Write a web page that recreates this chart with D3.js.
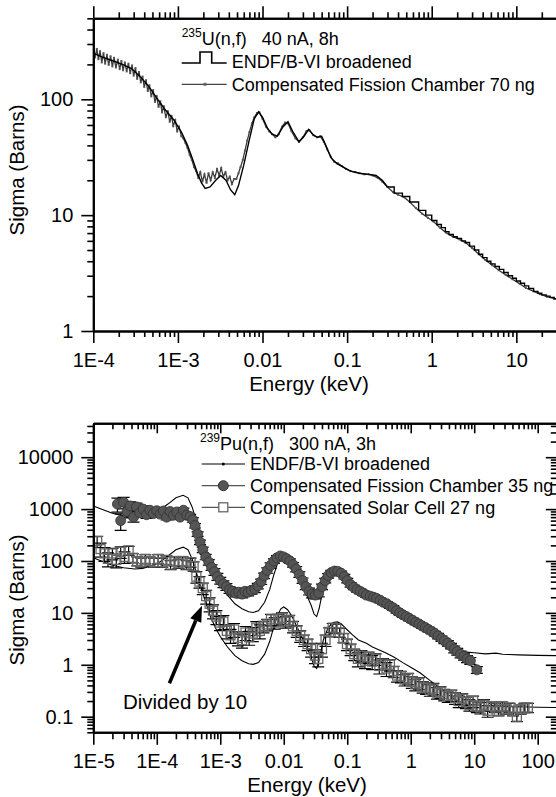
<!DOCTYPE html>
<html>
<head>
<meta charset="utf-8">
<script src="https://cdn.jsdelivr.net/npm/d3@7"></script>
<style>
  body { margin: 0; background: #fff; }
  svg { display: block; font-family: 'Liberation Sans', Arial, sans-serif; }
</style>
</head>
<body>
<svg id="chart" width="556" height="797"></svg>
<script>
// ---- 235U panel data (energy in keV, sigma in barns) ----
const uEndfE = [1e-4, 1.3e-4, 1.7e-4, 2.2e-4, 2.8e-4, 3.5e-4, 4.5e-4, 5.5e-4, 7e-4, 9e-4,
  1.1e-3, 1.3e-3, 1.5e-3, 1.7e-3, 1.9e-3, 2.1e-3, 2.4e-3, 2.8e-3, 3.2e-3, 3.7e-3,
  4.2e-3, 4.7e-3, 5.2e-3, 6e-3, 7e-3, 8e-3, 9e-3, 1e-2, 1.15e-2, 1.3e-2,
  1.5e-2, 1.75e-2, 2e-2, 2.3e-2, 2.7e-2, 3.1e-2, 3.5e-2, 4e-2, 4.5e-2, 5e-2,
  5.6e-2, 6.5e-2, 7.5e-2, 9e-2, 0.11, 0.14, 0.18, 0.22, 0.26, 0.3,
  0.36, 0.45, 0.55, 0.7, 0.85, 1.0, 1.15, 1.3, 1.45, 1.6, 1.8, 2.0, 2.25, 2.5, 2.8, 3.2,
  3.6, 4.0, 4.5, 5.0, 5.6, 6.3, 7.1, 8.0, 9.0, 10, 11.2, 12.5, 14, 16, 18, 20, 22.5, 25, 28, 31]
const uEndfSigma = [250, 230, 215, 200, 185, 160, 130, 105, 82, 66,
  52, 40, 30, 23, 19, 17, 17.5, 20, 22, 20,
  16.5, 15, 18, 27, 45, 68, 78, 70, 56, 50,
  48, 58, 64, 52, 43, 48, 55, 49, 47, 48,
  40, 31, 28, 26, 24, 23, 22.5, 22, 20, 17.5,
  15.5, 14.5, 13, 11, 10, 9.0, 8.3, 7.8, 7.2, 6.8, 6.5, 6.3, 6.0, 5.8, 5.4, 5.0,
  4.6, 4.3, 4.0, 3.8, 3.6, 3.4, 3.2, 3.0, 2.85, 2.7, 2.58, 2.45, 2.33, 2.2, 2.12, 2.05, 2.0, 1.95, 1.9, 1.88]
// above this energy the broadened ENDF curve is drawn as a histogram
const uEndfStepFrom = 0.3

const uChamberE = [1.00e-4, 1.05e-4, 1.10e-4, 1.15e-4, 1.2e-4, 1.26e-4, 1.32e-4, 1.38e-4, 1.45e-4, 1.52e-4,
  1.6e-4, 1.68e-4, 1.76e-4, 1.85e-4, 1.95e-4, 2.05e-4, 2.15e-4, 2.25e-4, 2.36e-4, 2.48e-4,
  2.6e-4, 2.73e-4, 2.87e-4, 3.0e-4, 3.15e-4, 3.3e-4, 3.47e-4, 3.64e-4, 3.82e-4, 4.0e-4,
  4.2e-4, 4.4e-4, 4.6e-4, 4.85e-4, 5.1e-4, 5.35e-4, 5.6e-4, 5.9e-4, 6.2e-4, 6.5e-4,
  6.8e-4, 7.2e-4, 7.6e-4, 8.0e-4, 8.4e-4, 8.8e-4, 9.3e-4, 9.8e-4, 1.03e-3, 1.1e-3,
  1.16e-3, 1.23e-3, 1.3e-3, 1.38e-3, 1.46e-3, 1.55e-3, 1.64e-3, 1.74e-3, 1.84e-3, 1.95e-3,
  2.06e-3, 2.18e-3, 2.3e-3, 2.44e-3, 2.58e-3, 2.73e-3, 2.9e-3, 3.07e-3, 3.25e-3, 3.44e-3,
  3.65e-3, 3.86e-3, 4.1e-3, 4.35e-3, 4.6e-3, 4.9e-3, 5.2e-3, 5.5e-3, 5.85e-3, 6.2e-3,
  6.6e-3, 7e-3, 7.5e-3, 8e-3, 8.6e-3, 9.2e-3, 1.0e-2, 1.1e-2, 1.2e-2, 1.3e-2,
  1.42e-2, 1.55e-2, 1.7e-2, 1.85e-2, 2.0e-2, 2.2e-2, 2.45e-2, 2.7e-2, 3.0e-2, 3.3e-2,
  3.6e-2, 4.0e-2, 4.4e-2, 4.8e-2, 5.3e-2, 5.8e-2, 6.4e-2, 7e-2, 7.8e-2, 8.7e-2,
  9.7e-2, 0.11, 0.125, 0.14, 0.16, 0.18, 0.2, 0.23, 0.26, 0.3,
  0.35, 0.4, 0.47, 0.55, 0.65, 0.77, 0.9, 1.05, 1.25, 1.5,
  1.8, 2.1, 2.5, 3, 3.6, 4.3, 5.2, 6.2, 7.5, 9,
  11, 13, 16, 19, 23, 28, 31]
const uChamberSigma = [285, 230, 272, 222, 260, 208, 250, 203, 242, 198,
  235, 192, 228, 188, 220, 182, 214, 178, 208, 174,
  203, 168, 196, 160, 186, 150, 172, 140, 157, 128,
  146, 118, 132, 106, 120, 95, 107, 86, 96, 77,
  87, 70, 79, 64, 72, 59, 66, 53, 58, 48,
  46, 42, 38, 33, 30, 26, 24, 21, 23.5, 19.5,
  22.5, 19, 23, 20, 23.5, 21, 25, 22, 25.5, 21.5,
  23.5, 20, 21.5, 18.5, 20.5, 20.5, 23, 26, 30, 36,
  44, 52, 62, 70, 76, 77, 68, 58, 53, 50,
  47, 50, 58, 63, 62, 53, 46, 43, 47, 53,
  54, 49, 47, 48, 43, 37, 32, 29, 28, 26.5,
  25, 24, 23.5, 23, 22.5, 22.5, 22, 21, 19.5, 17.5,
  15.8, 15, 14.3, 13, 11.5, 10.3, 9.5, 8.8, 7.8, 7,
  6.5, 6.2, 5.8, 5.2, 4.6, 4.1, 3.7, 3.35, 3.05, 2.8,
  2.55, 2.35, 2.2, 2.08, 1.98, 1.9, 1.88]

const uXTicks = [1e-4, 1e-3, 1e-2, 0.1, 1, 10]
const uXTickLabels = ['1E-4', '1E-3', '0.01', '0.1', '1', '10']
const uYTicks = [1, 10, 100]
const uYTickLabels = ['1', '10', '100']

// ---- 239Pu panel data ----
const puEndfE = [1e-5, 1.5e-5, 2e-5, 3e-5, 4.5e-5, 6e-5, 8e-5, 1.1e-4, 1.5e-4, 2e-4,
  2.6e-4, 3.1e-4, 3.6e-4, 4.2e-4, 5e-4, 6e-4, 7e-4, 8.5e-4, 1e-3, 1.3e-3,
  1.7e-3, 2.2e-3, 2.8e-3, 3.3e-3, 4e-3, 5e-3, 6e-3, 7e-3, 8e-3, 9e-3,
  1e-2, 1.15e-2, 1.35e-2, 1.6e-2, 1.9e-2, 2.3e-2, 2.7e-2, 3.0e-2, 3.3e-2, 3.6e-2,
  4.2e-2, 5e-2, 6e-2, 7e-2, 8e-2, 9.5e-2, 0.12, 0.15, 0.2, 0.25,
  0.3, 0.4, 0.55, 0.75, 1.0, 1.4, 2, 3, 4, 5.5,
  7.5, 10, 15, 22, 28, 35, 50, 100, 200]
const puEndfSigma = [1150, 950, 830, 740, 700, 720, 800, 950, 1250, 1650,
  1850, 1650, 1100, 600, 300, 150, 85, 50, 35, 22,
  15, 12, 10.5, 10.2, 11, 16, 28, 55, 90, 120,
  130, 115, 85, 55, 35, 22, 14, 9.5, 8.5, 12,
  30, 52, 65, 67, 62, 50, 38, 30, 26, 22,
  20, 17, 14, 11, 9, 7, 5, 3.5, 2.6, 2.0,
  1.75, 1.7, 1.62, 1.68, 1.6, 1.58, 1.55, 1.52, 1.5]
const puScaledDivisor = 10

const fcE = [2.4e-5, 2.7e-5, 3.0e-5, 3.4e-5, 3.8e-5, 4.3e-5, 4.8e-5, 5.4e-5, 6.1e-5, 6.9e-5,
  7.8e-5, 8.8e-5, 1.0e-4, 1.13e-4, 1.27e-4, 1.43e-4, 1.62e-4, 1.83e-4, 2.06e-4, 2.33e-4,
  2.63e-4, 2.97e-4, 3.35e-4, 3.7e-4, 4.0e-4, 4.4e-4, 4.8e-4, 5.3e-4, 5.9e-4, 6.6e-4,
  7.3e-4, 8.1e-4, 9e-4, 1.0e-3, 1.12e-3, 1.25e-3, 1.4e-3, 1.56e-3, 1.75e-3, 1.95e-3,
  2.2e-3, 2.45e-3, 2.75e-3, 3.1e-3, 3.5e-3, 3.9e-3, 4.4e-3, 4.9e-3, 5.5e-3, 6.2e-3,
  7e-3, 7.8e-3, 8.8e-3, 9.9e-3, 1.11e-2, 1.25e-2, 1.4e-2, 1.57e-2, 1.76e-2, 1.98e-2,
  2.22e-2, 2.5e-2, 2.8e-2, 3.15e-2, 3.55e-2, 4e-2, 4.5e-2, 5e-2, 5.6e-2, 6.3e-2,
  7.1e-2, 8e-2, 9e-2, 0.1, 0.113, 0.127, 0.143, 0.16, 0.18, 0.2,
  0.23, 0.26, 0.29, 0.33, 0.37, 0.42, 0.47, 0.53, 0.6, 0.67,
  0.75, 0.85, 0.95, 1.07, 1.2, 1.35, 1.52, 1.7, 1.9, 2.15,
  2.4, 2.7, 3.05, 3.4, 3.85, 4.3, 4.85, 5.4, 6.1, 6.9,
  7.7, 8.7, 11]
const fcSigma = [1250, 600, 1350, 900, 1150, 700, 1100, 850, 1000, 780,
  950, 820, 930, 800, 920, 700, 900, 760, 880, 700,
  950, 760, 720, 620, 480, 330, 230, 165, 120, 95,
  75, 62, 50, 42, 36, 32, 28, 26, 24, 25,
  23, 26, 25, 27, 29, 33, 40, 52, 66, 82,
  100, 115, 125, 120, 110, 100, 85, 70, 55, 42,
  32, 26, 23, 22, 24, 32, 42, 52, 60, 64,
  63, 58, 50, 42, 35, 31, 28, 26, 24, 22,
  21, 20, 19, 17.5, 16, 15, 13.5, 12.5, 11, 10,
  9.2, 8.5, 7.8, 7.2, 6.6, 6.1, 5.6, 5.2, 4.8, 4.4,
  4.0, 3.6, 3.2, 2.9, 2.6, 2.3, 2.0, 1.8, 1.6, 1.45,
  1.3, 1.2, 0.8]
const fcRelErr = [0.3, 0.35, 0.25, 0.25, 0.2, 0.2, 0.18, 0.15, 0.15, 0.15,
  0.12, 0.12, 0.12, 0.12, 0.1, 0.12, 0.1, 0.1, 0.1, 0.1,
  0.1, 0.1, 0.1, 0.1, 0.1, 0.1, 0.1, 0.12, 0.12, 0.12,
  0.12, 0.15, 0.15, 0.15, 0.15, 0.15, 0.15, 0.15, 0.15, 0.15,
  0.15, 0.15, 0.15, 0.15, 0.15, 0.12, 0.12, 0.12, 0.12, 0.12,
  0.1, 0.1, 0.1, 0.1, 0.1, 0.1, 0.1, 0.12, 0.12, 0.12,
  0.12, 0.15, 0.15, 0.15, 0.15, 0.12, 0.1, 0.1, 0.1, 0.1,
  0.1, 0.1, 0.1, 0.1, 0.1, 0.1, 0.1, 0.1, 0.1, 0.1,
  0.1, 0.1, 0.1, 0.1, 0.1, 0.1, 0.1, 0.1, 0.1, 0.1,
  0.1, 0.1, 0.1, 0.1, 0.1, 0.1, 0.1, 0.1, 0.1, 0.1,
  0.1, 0.12, 0.12, 0.12, 0.12, 0.12, 0.15, 0.15, 0.15, 0.15,
  0.15, 0.15, 0.15]

// solar cell values are already divided by 10, as plotted
const scE = [1.15e-5, 1.3e-5, 1.5e-5, 1.7e-5, 2.0e-5, 2.3e-5, 2.7e-5, 3.1e-5, 3.6e-5, 4.2e-5,
  4.9e-5, 5.7e-5, 6.6e-5, 7.7e-5, 9e-5, 1.05e-4, 1.22e-4, 1.42e-4, 1.65e-4, 1.9e-4,
  2.2e-4, 2.55e-4, 2.95e-4, 3.4e-4, 3.8e-4, 4.2e-4, 4.7e-4, 5.3e-4, 6e-4, 6.8e-4,
  7.7e-4, 8.7e-4, 9.9e-4, 1.12e-3, 1.27e-3, 1.45e-3, 1.65e-3, 1.9e-3, 2.2e-3, 2.5e-3,
  2.85e-3, 3.25e-3, 3.7e-3, 4.2e-3, 4.8e-3, 5.5e-3, 6.3e-3, 7.2e-3, 8.2e-3, 9.4e-3,
  1.07e-2, 1.22e-2, 1.4e-2, 1.6e-2, 1.82e-2, 2.08e-2, 2.37e-2, 2.7e-2, 3.1e-2, 3.5e-2,
  4e-2, 4.55e-2, 5.2e-2, 5.9e-2, 6.7e-2, 7.6e-2, 8.7e-2, 0.099, 0.113, 0.129,
  0.147, 0.167, 0.19, 0.217, 0.247, 0.28, 0.32, 0.365, 0.415, 0.47,
  0.54, 0.61, 0.7, 0.8, 0.91, 1.04, 1.18, 1.35, 1.54, 1.75,
  2.0, 2.28, 2.6, 2.95, 3.37, 3.84, 4.37, 5, 5.7, 6.5,
  7.4, 8.4, 9.6, 11, 12.5, 14.3, 16.3, 18.6, 21.2, 24.2,
  27.6, 31.5, 36, 41, 47, 54, 62, 70]
const scSigma = [240, 170, 140, 110, 140, 105, 150, 120, 160, 115,
  100, 95, 110, 100, 95, 110, 95, 105, 85, 100,
  90, 100, 85, 95, 80, 50, 40, 30, 21, 15,
  11, 8.5, 6.5, 6.8, 4.5, 3.7, 4.8, 3.3, 3.0, 4.2,
  3.4, 4.0, 5.2, 4.5, 5.5, 6.0, 7.5, 6.5, 7.5, 8.0,
  6.8, 7.2, 5.5, 4.5, 3.6, 3.0, 2.5, 2.0, 1.5, 1.3,
  2.0, 3.0, 4.3, 5.2, 5.0, 4.2, 3.3, 2.5, 2.0, 1.6,
  1.3, 1.5, 1.2, 1.4, 1.15, 1.3, 0.95, 1.05, 0.85, 1.0,
  0.75, 0.62, 0.6, 0.52, 0.55, 0.47, 0.42, 0.45, 0.38, 0.36,
  0.33, 0.35, 0.29, 0.3, 0.27, 0.25, 0.26, 0.23, 0.2, 0.22,
  0.19, 0.17, 0.2, 0.16, 0.15, 0.17, 0.13, 0.16, 0.15, 0.13,
  0.16, 0.14, 0.15, 0.13, 0.1, 0.14, 0.15, 0.15]
const scRelErr = [0.25, 0.3, 0.3, 0.3, 0.25, 0.3, 0.25, 0.25, 0.2, 0.2,
  0.2, 0.2, 0.2, 0.2, 0.2, 0.2, 0.2, 0.2, 0.2, 0.2,
  0.2, 0.2, 0.2, 0.2, 0.2, 0.25, 0.25, 0.25, 0.3, 0.3,
  0.3, 0.3, 0.3, 0.3, 0.3, 0.3, 0.3, 0.3, 0.3, 0.3,
  0.3, 0.3, 0.3, 0.3, 0.25, 0.25, 0.25, 0.25, 0.25, 0.25,
  0.25, 0.25, 0.25, 0.25, 0.25, 0.25, 0.25, 0.3, 0.3, 0.3,
  0.3, 0.25, 0.2, 0.2, 0.2, 0.2, 0.2, 0.25, 0.25, 0.25,
  0.3, 0.25, 0.3, 0.25, 0.3, 0.25, 0.3, 0.25, 0.3, 0.25,
  0.25, 0.25, 0.25, 0.25, 0.25, 0.25, 0.25, 0.25, 0.25, 0.25,
  0.25, 0.25, 0.25, 0.25, 0.25, 0.25, 0.25, 0.25, 0.25, 0.25,
  0.25, 0.25, 0.25, 0.25, 0.25, 0.25, 0.25, 0.2, 0.2, 0.2,
  0.2, 0.2, 0.2, 0.2, 0.2, 0.2, 0.2, 0.2]

const puXTicks = [1e-5, 1e-4, 1e-3, 1e-2, 0.1, 1, 10, 100]
const puXTickLabels = ['1E-5', '1E-4', '1E-3', '0.01', '0.1', '1', '10', '100']
const puYTicks = [0.1, 1, 10, 100, 1000, 10000]
const puYTickLabels = ['0.1', '1', '10', '100', '1000', '10000']

// annotation "Divided by 10" (arrow tail/tip and label, in data units)
const noteArrow = [[1.58e-4, 0.44], [5.15e-4, 13.7]]
const noteLabel = [2.93e-5, 0.141]

// ---------------------------------------------------------
const svg = d3.select('#chart')
const FONT = 20
const TITLE_FONT = 20.5
const LEG_FONT = 18

function minorTicks(domain) {
    const out = []
    const lo = Math.floor(Math.log10(domain[0]))
    const hi = Math.ceil(Math.log10(domain[1]))
    for (let p = lo; p <= hi; p++) {
        for (let k = 2; k <= 9; k++) {
            const v = k * Math.pow(10, p)
            if (v >= domain[0] * 0.999 && v <= domain[1] * 1.001) out.push(v)
        }
    }
    return out
}

function styleAxis(g) {
    g.attr('font-family', null).attr('font-size', null)
    g.select('.domain').attr('stroke', '#000').attr('stroke-width', 2)
    g.selectAll('.tick line').attr('stroke', '#000').attr('stroke-width', 1.6)
    g.selectAll('.tick text').attr('fill', '#000').style('font-size', FONT + 'px')
}

function drawAxis(g, axisFn, scale, major, labels, majLen, minLen, pad, withLabels) {
    const dom = scale.domain()
    g.append('g').call(axisFn(scale).tickValues(minorTicks(dom)).tickSize(minLen).tickSizeOuter(0).tickFormat(''))
        .call(styleAxis)
    g.append('g').call(axisFn(scale).tickValues(major).tickSize(majLen).tickSizeOuter(0).tickPadding(pad)
        .tickFormat((d, i) => withLabels ? labels[i] : ''))
        .call(styleAxis)
}

// ================= top panel: 235U =================
const uL = 93.3, uR = 556.7, uT = 18.3, uB = 331
const ux = d3.scaleLog().domain([1e-4, 30]).range([uL, uR])
const uy = d3.scaleLog().domain([1, 500]).range([uB, uT])

svg.append('defs').append('clipPath').attr('id', 'clipU')
    .append('rect').attr('x', uL).attr('y', uT).attr('width', uR - uL).attr('height', uB - uT)

const uPlot = svg.append('g').attr('clip-path', 'url(#clipU)')
const uChamber = uChamberE.map((e, i) => [e, uChamberSigma[i]])
const uEndf = uEndfE.map((e, i) => [e, uEndfSigma[i]])
const uEndfSmooth = uEndf.filter(d => d[0] <= uEndfStepFrom)
const uEndfSteps = uEndf.filter(d => d[0] >= uEndfStepFrom)

uPlot.append('path').datum(uChamber)
    .attr('fill', 'none').attr('stroke', '#3a3a3a').attr('stroke-width', 1.3)
    .attr('d', d3.line().x(d => ux(d[0])).y(d => uy(d[1])))
uPlot.selectAll('.udot').data(uChamber).join('rect')
    .attr('class', 'udot')
    .attr('x', d => ux(d[0]) - 1).attr('y', d => uy(d[1]) - 1)
    .attr('width', 2).attr('height', 2).attr('fill', '#555')
uPlot.append('path').datum(uEndfSmooth)
    .attr('fill', 'none').attr('stroke', '#000').attr('stroke-width', 1.4)
    .attr('d', d3.line().x(d => ux(d[0])).y(d => uy(d[1])))
uPlot.append('path').datum(uEndfSteps)
    .attr('fill', 'none').attr('stroke', '#000').attr('stroke-width', 1.4)
    .attr('d', d3.line().curve(d3.curveStepAfter).x(d => ux(d[0])).y(d => uy(d[1])))

drawAxis(svg.append('g').attr('transform', `translate(0,${uB})`), d3.axisBottom, ux, uXTicks, uXTickLabels, 12, 6, 9.5, true)
drawAxis(svg.append('g').attr('transform', `translate(0,${uT})`), d3.axisTop, ux, uXTicks, uXTickLabels, 12, 6, 4, false)
drawAxis(svg.append('g').attr('transform', `translate(${uL},0)`), d3.axisLeft, uy, uYTicks, uYTickLabels, 12, 6, 8, true)

svg.append('text').attr('x', 309).attr('y', 391).attr('text-anchor', 'middle')
    .style('font-size', TITLE_FONT + 'px').text('Energy (keV)')
svg.append('text').attr('transform', `translate(24,170) rotate(-90)`)
    .attr('text-anchor', 'middle').style('font-size', TITLE_FONT + 'px').text('Sigma (Barns)')

// legend (top)
const uLeg = svg.append('g').style('font-size', LEG_FONT + 'px')
const uTitle = uLeg.append('text').attr('x', 181.7).attr('y', 45)
uTitle.append('tspan').style('font-size', '12px').attr('dy', -8).text('235')
uTitle.append('tspan').attr('dy', 8).text('U(n,f)\u00a0\u00a0\u00a040 nA, 8h')
uLeg.append('path').attr('d', 'M181.7,63 H200 V52 H211.7 V63 H226.7')
    .attr('fill', 'none').attr('stroke', '#000').attr('stroke-width', 1.6)
uLeg.append('text').attr('x', 231.7).attr('y', 67.5).text('ENDF/B-VI broadened')
uLeg.append('line').attr('x1', 181.7).attr('x2', 226.7).attr('y1', 84.3).attr('y2', 84.3)
    .attr('stroke', '#444').attr('stroke-width', 1.2)
uLeg.append('rect').attr('x', 203.5).attr('y', 82.8).attr('width', 3).attr('height', 3).attr('fill', '#666')
uLeg.append('text').attr('x', 231.7).attr('y', 90.5).text('Compensated Fission Chamber 70 ng')

// ================= bottom panel: 239Pu =================
const pL = 93.3, pR = 556.8, pT = 423.3, pB = 732.3
const px = d3.scaleLog().domain([1e-5, 200]).range([pL, pR])
const py = d3.scaleLog().domain([0.05, 45000]).range([pB, pT])

svg.select('defs').append('clipPath').attr('id', 'clipP')
    .append('rect').attr('x', pL).attr('y', pT).attr('width', pR - pL).attr('height', pB - pT)

const pPlot = svg.append('g').attr('clip-path', 'url(#clipP)')
const pLine = d3.line().x(d => px(d[0])).y(d => py(d[1]))
const puEndf = puEndfE.map((e, i) => [e, puEndfSigma[i]])
const puEndfScaled = puEndfE.map((e, i) => [e, puEndfSigma[i] / puScaledDivisor])

pPlot.append('path').datum(puEndf).attr('fill', 'none').attr('stroke', '#000').attr('stroke-width', 1.1).attr('d', pLine)
pPlot.append('path').datum(puEndfScaled).attr('fill', 'none').attr('stroke', '#000').attr('stroke-width', 1.1).attr('d', pLine)

const fc = fcE.map((e, i) => ({ e, s: fcSigma[i], err: fcSigma[i] * fcRelErr[i] }))
const sc = scE.map((e, i) => ({ e, s: scSigma[i], err: scSigma[i] * scRelErr[i] }))

function errorBars(sel, data, cls) {
    const g = sel.append('g').attr('stroke', '#000').attr('stroke-width', 1.2)
    g.selectAll('.v' + cls).data(data).join('line').attr('class', 'v' + cls)
        .attr('x1', d => px(d.e)).attr('x2', d => px(d.e))
        .attr('y1', d => py(d.s + d.err)).attr('y2', d => py(Math.max(d.s - d.err, 0.01)))
    g.selectAll('.t' + cls).data(data).join('line').attr('class', 't' + cls)
        .attr('x1', d => px(d.e) - 6).attr('x2', d => px(d.e) + 6)
        .attr('y1', d => py(d.s + d.err)).attr('y2', d => py(d.s + d.err))
    g.selectAll('.b' + cls).data(data).join('line').attr('class', 'b' + cls)
        .attr('x1', d => px(d.e) - 6).attr('x2', d => px(d.e) + 6)
        .attr('y1', d => py(d.s - d.err)).attr('y2', d => py(d.s - d.err))
}

errorBars(pPlot, sc, 'sc')
pPlot.selectAll('.sq').data(sc).join('rect').attr('class', 'sq')
    .attr('x', d => px(d.e) - 4.5).attr('y', d => py(d.s) - 4.5)
    .attr('width', 9).attr('height', 9)
    .attr('fill', 'none').attr('stroke', '#666').attr('stroke-width', 1.3)

errorBars(pPlot, fc, 'fc')
pPlot.selectAll('.dot').data(fc).join('circle').attr('class', 'dot')
    .attr('cx', d => px(d.e)).attr('cy', d => py(d.s)).attr('r', 5)
    .attr('fill', '#555').attr('stroke', '#333').attr('stroke-width', 0.8)

drawAxis(svg.append('g').attr('transform', `translate(0,${pB})`), d3.axisBottom, px, puXTicks, puXTickLabels, 12.5, 7, 9, true)
drawAxis(svg.append('g').attr('transform', `translate(0,${pT})`), d3.axisTop, px, puXTicks, puXTickLabels, -10, -6, 4, false)
drawAxis(svg.append('g').attr('transform', `translate(${pL},0)`), d3.axisLeft, py, puYTicks, puYTickLabels, 12, 6, 8, true)
drawAxis(svg.append('g').attr('transform', `translate(${pR},0)`), d3.axisRight, py, puYTicks, puYTickLabels, -11, -6, 4, false)

svg.append('text').attr('x', 307).attr('y', 792).attr('text-anchor', 'middle')
    .style('font-size', TITLE_FONT + 'px').text('Energy (keV)')
svg.append('text').attr('transform', `translate(24,600) rotate(-90)`)
    .attr('text-anchor', 'middle').style('font-size', TITLE_FONT + 'px').text('Sigma (Barns)')

// arrow + note
const arrowA = [px(noteArrow[0][0]), py(noteArrow[0][1])]
const arrowB = [px(noteArrow[1][0]), py(noteArrow[1][1])]
const ang = Math.atan2(arrowB[1] - arrowA[1], arrowB[0] - arrowA[0])
const headLen = 16, headW = 6
const base = [arrowB[0] - headLen * Math.cos(ang), arrowB[1] - headLen * Math.sin(ang)]
svg.append('line').attr('x1', arrowA[0]).attr('y1', arrowA[1]).attr('x2', base[0]).attr('y2', base[1])
    .attr('stroke', '#000').attr('stroke-width', 3.5)
svg.append('path')
    .attr('d', `M${arrowB[0]},${arrowB[1]} L${base[0] + headW * Math.sin(ang)},${base[1] - headW * Math.cos(ang)} L${base[0] - headW * Math.sin(ang)},${base[1] + headW * Math.cos(ang)} Z`)
    .attr('fill', '#000')
svg.append('text').attr('x', px(noteLabel[0])).attr('y', py(noteLabel[1]))
    .style('font-size', TITLE_FONT + 'px').text('Divided by 10')

// legend (bottom)
const pLeg = svg.append('g').style('font-size', LEG_FONT + 'px')
const pTitle = pLeg.append('text').attr('x', 200).attr('y', 449.5)
pTitle.append('tspan').style('font-size', '12px').attr('dy', -8).text('239')
pTitle.append('tspan').attr('dy', 8).text('Pu(n,f)\u00a0\u00a0\u00a0300 nA, 3h')
pLeg.append('line').attr('x1', 201.7).attr('x2', 245).attr('y1', 464).attr('y2', 464).attr('stroke', '#000').attr('stroke-width', 1.2)
pLeg.append('circle').attr('cx', 223.3).attr('cy', 464).attr('r', 1.5).attr('fill', '#000')
pLeg.append('text').attr('x', 250).attr('y', 470.3).text('ENDF/B-VI broadened')
pLeg.append('line').attr('x1', 201.7).attr('x2', 245).attr('y1', 485.7).attr('y2', 485.7).attr('stroke', '#555').attr('stroke-width', 1.2)
pLeg.append('circle').attr('cx', 223.3).attr('cy', 485.7).attr('r', 5).attr('fill', '#555').attr('stroke', '#333')
pLeg.append('text').attr('x', 250).attr('y', 492).text('Compensated Fission Chamber 35 ng')
pLeg.append('line').attr('x1', 201.7).attr('x2', 245).attr('y1', 507.3).attr('y2', 507.3).attr('stroke', '#555').attr('stroke-width', 1.2)
pLeg.append('rect').attr('x', 218.8).attr('y', 502.8).attr('width', 9).attr('height', 9).attr('fill', '#fff').attr('stroke', '#666').attr('stroke-width', 1.3)
pLeg.append('text').attr('x', 250).attr('y', 513.6).text('Compensated Solar Cell 27 ng')
</script>
</body>
</html>
